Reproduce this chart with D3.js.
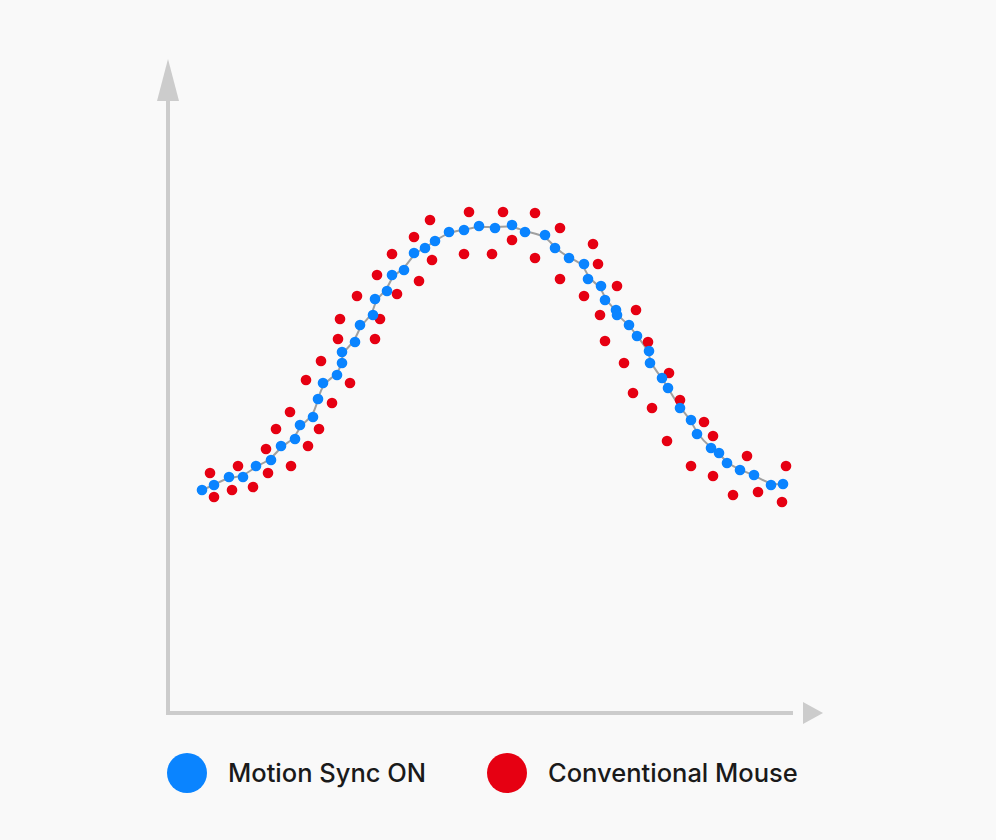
<!DOCTYPE html>
<html><head><meta charset="utf-8">
<script src="https://cdn.jsdelivr.net/npm/d3@7"></script>
<style>body{margin:0;background:#f9f9f9}svg{display:block}</style></head>
<body><svg width="996" height="840"></svg>
<script>
const blueX=[34,46,61,75,88,103,113,127,132,145,150,155,169,174,174,187,192,205,207,219,224,236,246,257,267,281,296,311,327,344,357,377,387,401,416,420,433,437,448,449,461,469,481,482,494,500,512,523,529,543,551,559,572,586,603,615];
const blueY=[223,228,236,236,247,253,267,274,288,296,314,330,338,350,361,371,388,398,414,422,438,443,460,465,472,481,483,487,485,488,481,478,465,455,449,434,427,413,403,398,388,377,362,350,335,325,305,293,279,265,260,250,243,238,228,229];
const redX=[42,46,64,70,85,100,98,108,123,122,140,151,138,164,153,182,170,172,207,212,189,229,209,251,224,264,246,262,296,301,324,335,344,367,367,392,392,425,430,416,449,432,468,437,480,456,501,465,512,484,536,499,545,523,579,545,565,590,618,614];
const redY=[240,216,223,247,226,240,264,284,247,301,267,284,333,310,352,330,374,394,374,394,417,419,438,432,459,453,476,493,459,501,459,501,473,500,455,485,434,469,449,417,427,398,403,372,371,350,340,320,313,305,291,272,277,247,257,237,218,221,247,211];
const series=[{name:"Motion Sync ON",color:"#0a84ff"},{name:"Conventional Mouse",color:"#e60012"}];
const svg=d3.select("svg");
svg.append("rect").attr("width",996).attr("height",840).attr("fill","#f9f9f9");
const x=d3.scaleLinear().domain([0,640]).range([168,808]);
const y=d3.scaleLinear().domain([0,640]).range([713,73]);
const g="#cccccc";
svg.append("line").attr("x1",x(0)).attr("y1",y(0)).attr("x2",x(0)).attr("y2",y(620)).attr("stroke",g).attr("stroke-width",4);
svg.append("line").attr("x1",x(0)-2).attr("y1",y(0)).attr("x2",x(625)).attr("y2",y(0)).attr("stroke",g).attr("stroke-width",4);
svg.append("path").attr("d",`M${x(0)-11},${y(632)+20}L${x(0)},${y(654)}L${x(0)+11},${y(632)+20}Z`).attr("fill",g);
svg.append("path").attr("d",`M${x(635)},${y(0)-11}L${x(655)},${y(0)}L${x(635)},${y(0)+11}Z`).attr("fill",g);
const pts=blueX.map((v,i)=>[v,blueY[i]]);
svg.append("path").datum(pts).attr("fill","none").attr("stroke","#a0a0a0").attr("stroke-width",2)
 .attr("d",d3.line().x(d=>x(d[0])).y(d=>y(d[1])).curve(d3.curveBasis));
svg.append("g").selectAll("circle").data(redX.map((v,i)=>[v,redY[i]])).join("circle")
 .attr("cx",d=>x(d[0])).attr("cy",d=>y(d[1])).attr("r",5.3).attr("fill",series[1].color);
svg.append("g").selectAll("circle").data(pts).join("circle")
 .attr("cx",d=>x(d[0])).attr("cy",d=>y(d[1])).attr("r",5.3).attr("fill",series[0].color);
const lx=[187,507];
series.forEach((s,i)=>{
 svg.append("circle").attr("cx",lx[i]).attr("cy",773).attr("r",20).attr("fill",s.color);
 svg.append("text").attr("x",lx[i]+41).attr("y",782).attr("font-family","Inter, 'Noto Sans', sans-serif")
  .attr("font-size",25.5).attr("font-weight",500).attr("fill","#1a1a1a").text(s.name);
});
</script></body></html>
